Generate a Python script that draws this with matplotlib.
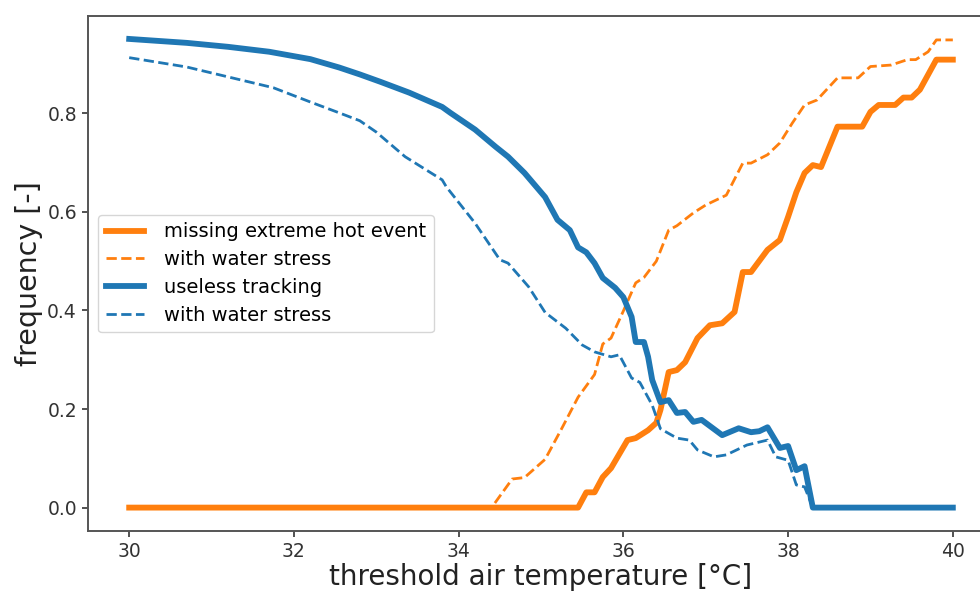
import matplotlib
matplotlib.use('Agg')
import matplotlib.pyplot as plt
import numpy as np

# useless tracking (blue, solid)
temp_track = [30.0, 30.7, 31.2, 31.7, 32.2, 32.55, 32.8, 33.05, 33.4, 33.8, 33.9, 34.2, 34.45,
              34.6, 34.8, 35.05, 35.2, 35.35, 35.45, 35.55, 35.65, 35.75, 35.9, 36.0, 36.1,
              36.15, 36.25, 36.3, 36.35, 36.45, 36.55, 36.65, 36.75, 36.85, 36.95, 37.2,
              37.4, 37.55, 37.65, 37.75, 37.9, 38.0, 38.1, 38.2, 38.3, 40.0]
freq_track = [0.951, 0.943, 0.935, 0.925, 0.910, 0.893, 0.879, 0.864, 0.842, 0.813, 0.801, 0.767,
              0.732, 0.712, 0.679, 0.630, 0.584, 0.563, 0.528, 0.518, 0.496, 0.466, 0.446,
              0.427, 0.387, 0.336, 0.336, 0.306, 0.259, 0.214, 0.218, 0.192, 0.194, 0.174,
              0.178, 0.147, 0.161, 0.153, 0.155, 0.163, 0.121, 0.125, 0.076, 0.084, 0.0, 0.0]

# useless tracking with water stress (blue, dashed)
temp_track_ws = [30.0, 30.7, 31.2, 31.75, 32.2, 32.55, 32.8, 33.0, 33.35, 33.8, 33.85, 34.2,
                 34.5, 34.6, 34.85, 35.05, 35.3, 35.5, 35.65, 35.85, 35.95, 36.1, 36.2, 36.35,
                 36.45, 36.65, 36.8, 36.9, 37.1, 37.25, 37.5, 37.75, 37.85, 38.0, 38.1, 38.2,
                 38.3, 40.0]
freq_track_ws = [0.913, 0.894, 0.874, 0.852, 0.823, 0.801, 0.785, 0.762, 0.712, 0.665, 0.651,
                 0.577, 0.503, 0.496, 0.448, 0.396, 0.364, 0.330, 0.316, 0.306, 0.310, 0.263,
                 0.254, 0.208, 0.160, 0.141, 0.137, 0.117, 0.103, 0.107, 0.127, 0.137, 0.103,
                 0.096, 0.046, 0.042, 0.0, 0.0]

# missing extreme hot event (orange, solid)
temp_miss = [30.0, 35.45, 35.55, 35.65, 35.75, 35.85, 36.05, 36.15, 36.3, 36.4, 36.45, 36.55,
             36.65, 36.75, 36.9, 37.05, 37.2, 37.35, 37.45, 37.55, 37.75, 37.9, 38.0, 38.1,
             38.2, 38.3, 38.4, 38.6, 38.9, 39.0, 39.1, 39.3, 39.4, 39.5, 39.6, 39.8, 40.0]
freq_miss = [0.0, 0.0, 0.031, 0.031, 0.062, 0.080, 0.137, 0.141, 0.157, 0.172, 0.198, 0.275,
             0.279, 0.295, 0.344, 0.370, 0.374, 0.397, 0.478, 0.478, 0.523, 0.543, 0.590,
             0.640, 0.679, 0.695, 0.691, 0.773, 0.773, 0.803, 0.817, 0.817, 0.832, 0.832,
             0.848, 0.909, 0.909]

# missing extreme hot event with water stress (orange, dashed)
temp_miss_ws = [30.0, 34.4, 34.65, 34.8, 35.05, 35.25, 35.45, 35.65, 35.75, 35.85, 36.0, 36.15,
                36.25, 36.4, 36.55, 36.65, 36.85, 37.0, 37.25, 37.45, 37.55, 37.75, 37.9,
                38.05, 38.2, 38.35, 38.6, 38.85, 39.0, 39.25, 39.45, 39.55, 39.7, 39.8, 40.0]
freq_miss_ws = [0.0, 0.0, 0.058, 0.061, 0.098, 0.160, 0.224, 0.270, 0.332, 0.344, 0.399, 0.456,
                0.467, 0.500, 0.563, 0.572, 0.598, 0.614, 0.634, 0.699, 0.699, 0.716, 0.740,
                0.780, 0.817, 0.827, 0.872, 0.872, 0.895, 0.898, 0.909, 0.909, 0.925, 0.949,
                0.949]

fig = plt.figure(figsize=(9.8, 5.91), dpi=100)
# right edge of the axes sits outside the picture (cropped original)
ax = fig.add_axes([0.0898, 0.1015, 0.9245, 0.8714])

ax.plot(temp_miss, freq_miss, color='#ff7f0e', lw=4.2, label='missing extreme hot event')
ax.plot(temp_miss_ws, freq_miss_ws, color='#ff7f0e', lw=2.0, ls='--', label='with water stress')
ax.plot(temp_track, freq_track, color='#1f77b4', lw=4.2, label='useless tracking')
ax.plot(temp_track_ws, freq_track_ws, color='#1f77b4', lw=2.0, ls='--', label='with water stress')

ax.set_xlim(29.5, 40.5)
ax.set_ylim(-0.0475, 0.9975)
ax.set_xticks([30, 32, 34, 36, 38, 40])
ax.set_yticks([0.0, 0.2, 0.4, 0.6, 0.8])
ax.tick_params(labelsize=13.5, length=4.5, width=1.2, colors='#333333')
for s in ax.spines.values():
    s.set_color('#555555')
    s.set_linewidth(1.4)

ax.set_xlabel('threshold air temperature [°C]', fontsize=20, labelpad=1, color='#222222')
ax.set_ylabel('frequency [-]', fontsize=20.5, labelpad=3, color='#222222')

ax.legend(loc='center left', fontsize=14, handlelength=2.0, handletextpad=1.0, labelspacing=0.45)

plt.savefig('out.png', dpi=100)
